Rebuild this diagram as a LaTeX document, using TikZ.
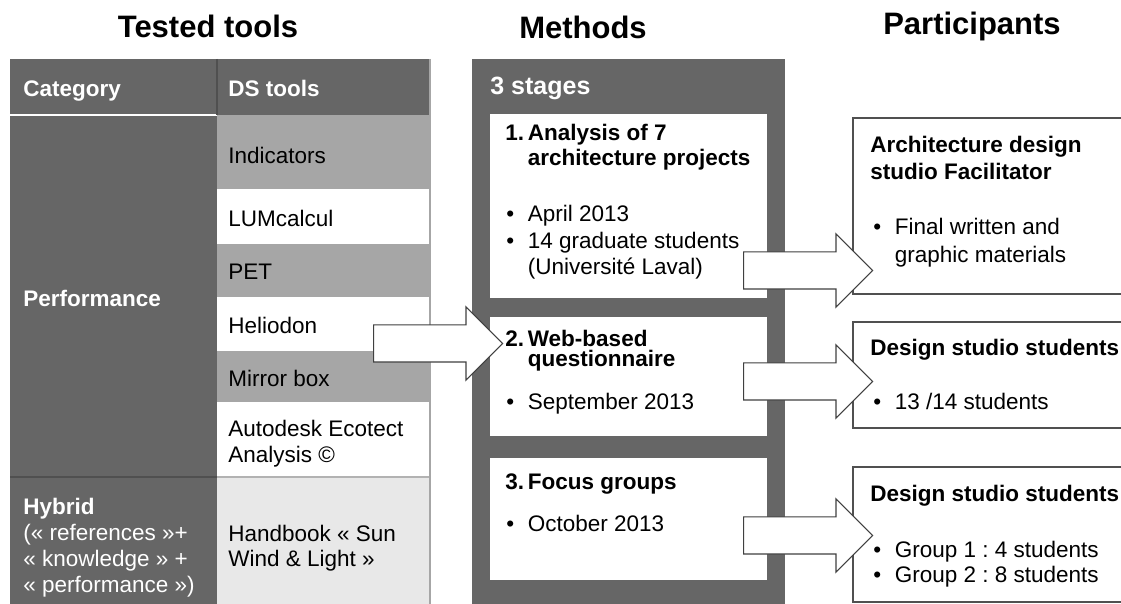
\documentclass[tikz,border=0pt]{standalone}
\usepackage{fontspec}
\setmainfont{Liberation Sans}
\usetikzlibrary{shapes.arrows,calc}
\frenchspacing

\definecolor{panelgray}{HTML}{666666}
\definecolor{rowgray}{HTML}{A6A6A6}
\definecolor{lightrow}{HTML}{E8E8E8}
\definecolor{darkline}{HTML}{505050}
\definecolor{edgegray}{HTML}{404040}

\newcommand{\dotitem}{\makebox[10.75pt][l]{•}}
\newcommand{\itemgap}{\hspace*{10.75pt}}

\tikzset{
    title/.style={anchor=base,inner sep=0pt,font=\fontsize{15.5}{18}\selectfont\bfseries},
    txt/.style={anchor=base west,inner sep=0pt,align=left,font=\fontsize{11.25}{13.25}\selectfont},
    btxt/.style={txt,font=\fontsize{11.25}{12.5}\selectfont\bfseries},
    wtxt/.style={btxt,text=white},
    box/.style={rectangle,anchor=north west,inner sep=0pt,outer sep=0pt},
    cell/.style={rectangle,inner sep=0pt,outer sep=0pt,minimum width=106.5pt},
    partbox/.style={draw=darkline,line width=0.75pt,fill=white},
    blockarrow/.style={single arrow,draw=edgegray,fill=white,line width=0.6pt,
        inner sep=0pt,text height=18pt,text depth=0pt,minimum height=64.5pt,
        single arrow head extend=9pt,anchor=tail}
}

\begin{document}
\begin{tikzpicture}[x=0.5pt,y=-0.5pt]
\useasboundingbox (0,0) rectangle (1121,604);
\clip (0,0) rectangle (1121,604);

\node[title] (ttools) at (208,38) {Tested tools};
\node[title] (tmethods) at (583,39) {Methods};
\node[title] (tpart) at (972,35) {Participants};

\fill[panelgray] (10,59) rectangle (430,604);
\foreach \ya/\yb/\col/\nm in {115/189/rowgray/indcell,189/244/white/lumcell,
    244/297/rowgray/petcell,297/351/white/heliocell,351/402/rowgray/mirrorcell,
    402/477/white/ecocell,477/604/lightrow/handcell}
    \node[cell,fill=\col,minimum height={(\yb-\ya)*0.5pt}] (\nm) at (323.5,{(\ya+\yb)/2}) {};
\draw[white,line width=1pt] (10,115) -- (217,115);
\draw[darkline,line width=0.8pt] (217,59) -- (217,115);
\draw[darkline,line width=0.8pt] (10,477) -- (217,477);
\draw[gray!60,line width=0.6pt] (217,477) -- (430,477);
\draw[gray!70,line width=0.8pt] (430,59) -- (430,604);

\node[box,fill=panelgray,minimum width=156.5pt,minimum height=280pt] (panel) at (472,59) {};
\node[box,fill=white,minimum width=138.5pt,minimum height=92pt] (stage1) at (490,114) {};
\node[box,fill=white,minimum width=138.5pt,minimum height=59.5pt] (stage2) at (490,317) {};
\node[box,fill=white,minimum width=138.5pt,minimum height=61pt] (stage3) at (490,458) {};

\node[box,partbox,minimum width=143.5pt,minimum height=88pt] (partA) at (853,118) {};
\node[box,partbox,minimum width=143.5pt,minimum height=53pt] (partB) at (853,322) {};
\node[box,partbox,minimum width=143.5pt,minimum height=67.5pt] (partC) at (853,467) {};

\node[blockarrow] (toMethods) at ($(heliocell.east)+(-57,19.5)$) {};
\node[blockarrow] (toFacil) at ($(stage1.east)+(-24,64.5)$) {};
\node[blockarrow] (toSurvey) at ($(stage2.east)+(-24,5)$) {};
\node[blockarrow] (toFocus) at ($(stage3.east)+(-24,16.5)$) {};

\node[wtxt] (category) at (23,97) {Category};
\node[wtxt] (dstools) at (228,97) {DS tools};
\node[wtxt] (perf) at (23,307) {Performance};
\node[txt,text=white,font=\fontsize{11.25}{13.15}\selectfont] (hybrid) at (23,593)
    {\textbf{Hybrid}\\(« references »+\\« knowledge » +\\« performance »)};

\node[txt] (indicators) at (228,164) {Indicators};
\node[txt] (lumcalcul) at (228,227) {LUMcalcul};
\node[txt] (pet) at (228,280) {PET};
\node[txt] (heliodon) at (228,334) {Heliodon};
\node[txt] (mirrorbox) at (228,387) {Mirror box};
\node[txt,font=\fontsize{11.25}{13}\selectfont] (ecotect) at (228,463) {Autodesk Ecotect\\Analysis ©};
\node[txt,font=\fontsize{11.25}{12.5}\selectfont] (handbook) at (228,567) {Handbook « Sun\\Wind \& Light »};

\node[wtxt,font=\fontsize{12.5}{14}\selectfont\bfseries] (stages) at (490,95) {3 stages};
\node[btxt] (s1head) at (505,166) {\makebox[11.25pt][l]{1.}Analysis of 7\\\hspace*{11.25pt}architecture projects};
\node[txt] (s1list) at (506,275) {\dotitem April 2013\\\dotitem 14 graduate students\\\itemgap(Université Laval)};
\node[btxt,font=\fontsize{11.25}{10.25}\selectfont\bfseries] (s2head) at (505,367) {\makebox[11.25pt][l]{2.}Web-based\\\hspace*{11.25pt}questionnaire};
\node[txt] (s2list) at (506,410) {\dotitem September 2013};
\node[btxt] (s3head) at (505,490) {\makebox[11.25pt][l]{3.}Focus groups};
\node[txt] (s3list) at (506,532) {\dotitem October 2013};

\node[btxt,font=\fontsize{11.25}{13.5}\selectfont\bfseries] (phead1) at (870,180) {Architecture design\\studio Facilitator};
\node[txt,font=\fontsize{11.25}{14}\selectfont] (plist1) at (873,263) {\dotitem Final written and\\\itemgap graphic materials};
\node[btxt] (phead2) at (870,356) {Design studio students};
\node[txt] (plist2) at (873,410) {\dotitem 13 /14 students};
\node[btxt] (phead3) at (870,502) {Design studio students};
\node[txt,font=\fontsize{11.25}{13}\selectfont] (plist3) at (873,583) {\dotitem Group 1 : 4 students\\\dotitem Group 2 : 8 students};
\end{tikzpicture}
\end{document}
